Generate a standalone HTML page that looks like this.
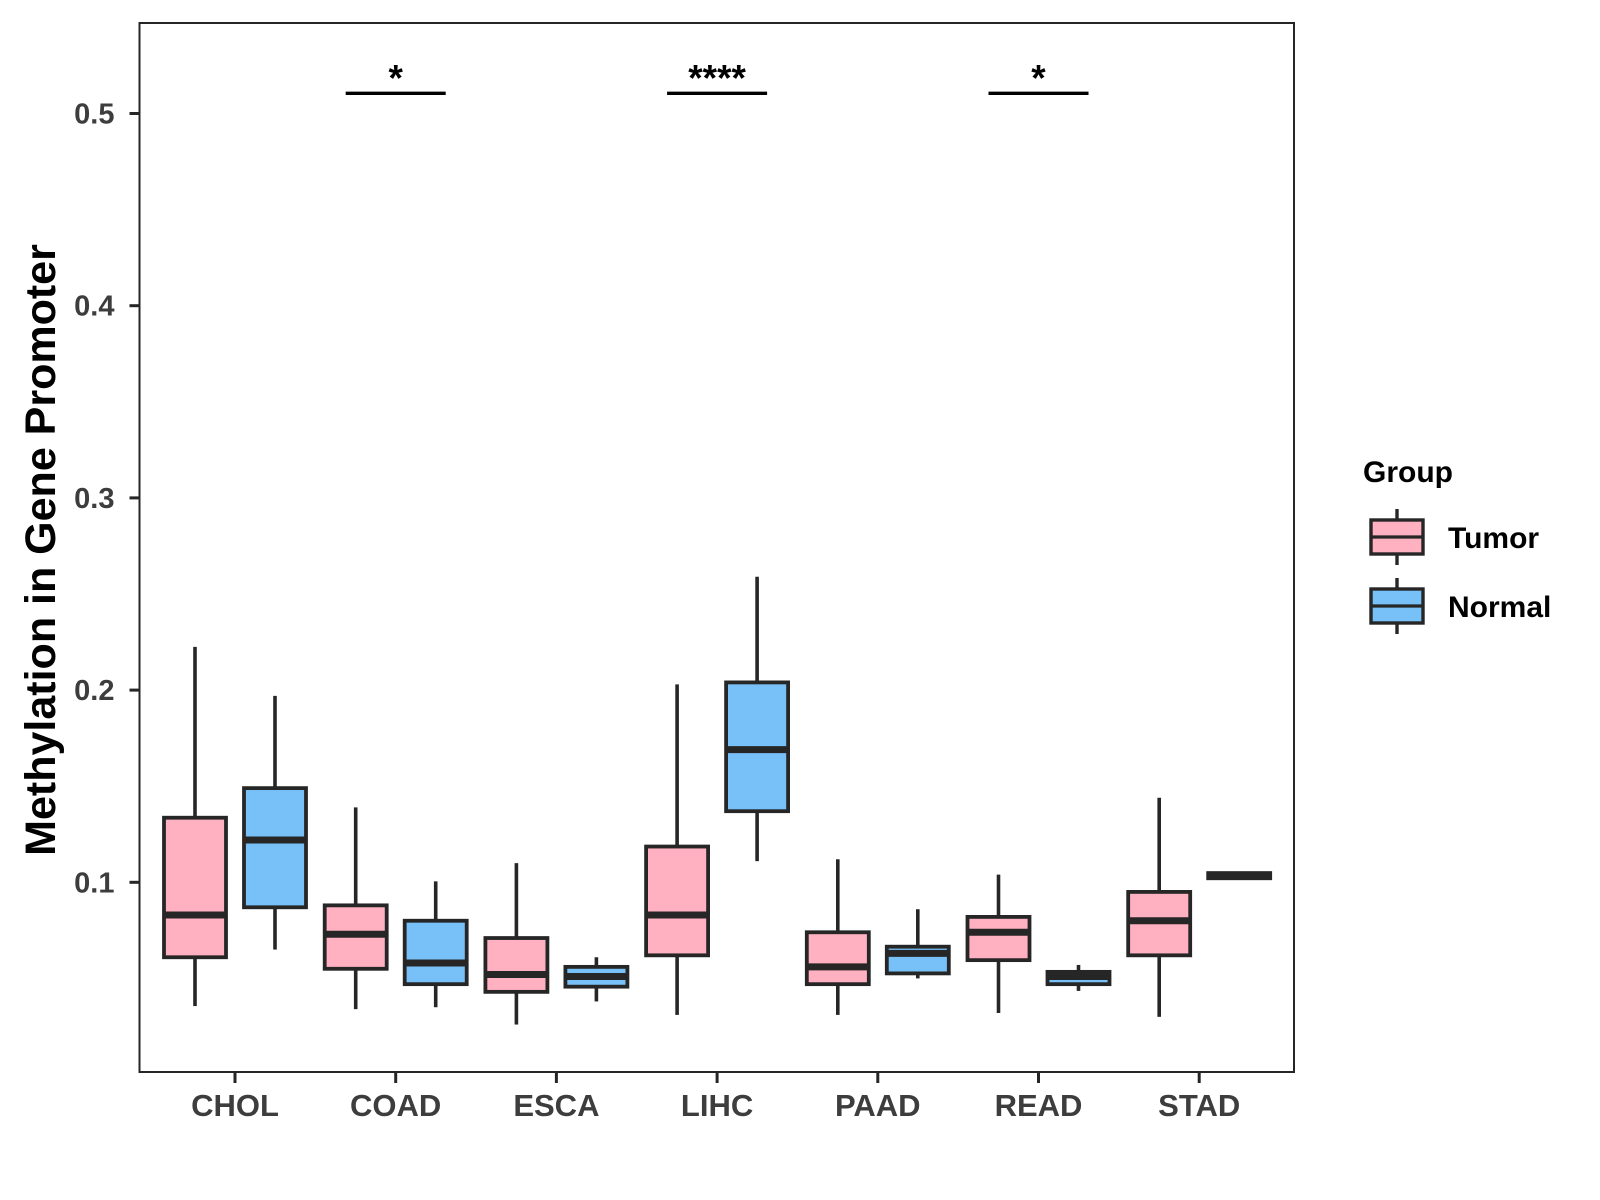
<!DOCTYPE html>
<html><head><meta charset="utf-8"><style>
html,body{margin:0;padding:0;background:#fff;}
svg{display:block;font-family:"Liberation Sans",Arial,sans-serif;}
</style></head><body>
<svg id="chart" width="1600" height="1200" viewBox="0 0 1600 1200">
<rect x="0" y="0" width="1600" height="1200" fill="#fff"/>
<g id="plot"></g>
<text x="55" y="550" transform="rotate(-90 55 550)" text-anchor="middle" font-size="43" font-weight="bold" fill="#000">Methylation in Gene Promoter</text>
<g id="legend"></g>
</svg>
<script>
const categories = ["CHOL","COAD","ESCA","LIHC","PAAD","READ","STAD"];
const groups = ["Tumor","Normal"];
// [lower whisker, q1, median, q3, upper whisker]
const tumorStats = [
 [0.0356,0.061,0.083,0.1336,0.2225],
 [0.034,0.055,0.073,0.088,0.139],
 [0.026,0.043,0.052,0.071,0.110],
 [0.031,0.062,0.083,0.1186,0.203],
 [0.031,0.047,0.056,0.074,0.112],
 [0.032,0.0595,0.074,0.082,0.104],
 [0.030,0.062,0.080,0.095,0.144]
];
const normalStats = [
 [0.065,0.087,0.122,0.149,0.197],
 [0.035,0.047,0.058,0.080,0.1005],
 [0.038,0.0457,0.051,0.056,0.061],
 [0.111,0.137,0.169,0.204,0.259],
 [0.050,0.0526,0.063,0.0665,0.086],
 [0.0435,0.047,0.051,0.0534,0.057],
 [0.1021,0.1021,0.1037,0.1048,0.1048]
];
const yTicks = [0.1,0.2,0.3,0.4,0.5];
const yTickLabels = ["0.1","0.2","0.3","0.4","0.5"];
const sigCategories = ["COAD","LIHC","READ"];
const sigLabels = ["*","****","*"];
const sigLevel = 0.5105;

const NS="http://www.w3.org/2000/svg";
const L=139.5,R=1294,T=23,B=1072;
const y = v => 1074.5 - 1922*v;
const x = i => 235 + i*160.7;
const dodge=40, bw=62;
const colors={Tumor:"#FFB0C1",Normal:"#78C1F8"};
const ink="#262626";
const g=document.getElementById('plot');
function mk(tag,attrs,parent){const e=document.createElementNS(NS,tag);for(const k in attrs)e.setAttribute(k,attrs[k]);(parent||g).appendChild(e);return e;}

yTicks.forEach((v,i)=>{
 const t=mk('line',{x1:L-10,x2:L,y1:y(v),y2:y(v),stroke:ink,'stroke-width':3});
 
 
 const tx=mk('text',{x:L-25,y:y(v)+10,'text-anchor':'end','font-size':29,'font-weight':'bold',fill:'#3d3d3d'});
 tx.textContent=yTickLabels[i];
 
 
});
categories.forEach((c,i)=>{
 const t=mk('line',{x1:x(i),x2:x(i),y1:B,y2:B+11,stroke:ink,'stroke-width':3});
 
 
 const tx=mk('text',{x:x(i),y:B+44,'text-anchor':'middle','font-size':31,'font-weight':'bold',fill:'#3d3d3d'});
 tx.textContent=c;
 
 
});
function drawBox(cx,s,fill,name){
 const grp=mk('g',{});
 
 
 mk('line',{x1:cx,x2:cx,y1:y(s[3]),y2:y(s[4]),stroke:ink,'stroke-width':3.6},grp);
 mk('line',{x1:cx,x2:cx,y1:y(s[1]),y2:y(s[0]),stroke:ink,'stroke-width':3.6},grp);
 mk('rect',{x:cx-bw/2,y:y(s[3]),width:bw,height:Math.max(0.5,y(s[1])-y(s[3])),fill:fill,stroke:ink,'stroke-width':3.8},grp);
 mk('line',{x1:cx-bw/2,x2:cx+bw/2,y1:y(s[2]),y2:y(s[2]),stroke:ink,'stroke-width':7},grp);
}
categories.forEach((c,i)=>{
 drawBox(x(i)-dodge,tumorStats[i],colors.Tumor,'box-'+c.toLowerCase()+'-tumor');
 drawBox(x(i)+dodge,normalStats[i],colors.Normal,'box-'+c.toLowerCase()+'-normal');
});
sigCategories.forEach((c,k)=>{
 const i=categories.indexOf(c);
 const l=mk('line',{x1:x(i)-50,x2:x(i)+50,y1:y(sigLevel),y2:y(sigLevel),stroke:'#000','stroke-width':3.4});
 
 
 const t=mk('text',{x:x(i),y:y(sigLevel)-3,'text-anchor':'middle','font-size':37,'font-weight':'bold',fill:'#000'});
 t.textContent=sigLabels[k];
 
 
});
const pb=mk('rect',{x:L,y:T,width:R-L,height:B-T,fill:'none',stroke:ink,'stroke-width':2});



const lg=document.getElementById('legend');
const lt=mk('text',{x:1363,y:482,'font-size':30,'font-weight':'bold',fill:'#000'},lg);
lt.textContent='Group';


const legendPos=[537,606];
groups.forEach((grpName,k)=>{
 const e=mk('g',{},lg);
 
 
 const cy=legendPos[k], cx=1397;
 mk('line',{x1:cx,x2:cx,y1:cy-28,y2:cy+28,stroke:ink,'stroke-width':3.4},e);
 mk('rect',{x:1371,y:cy-17,width:52,height:34,fill:colors[grpName],stroke:ink,'stroke-width':3.4},e);
 mk('line',{x1:1371,x2:1423,y1:cy,y2:cy,stroke:ink,'stroke-width':3.2},e);
 const tx=mk('text',{x:1448,y:cy+11,'font-size':30,'font-weight':'bold',fill:'#000'},e);
 tx.textContent=grpName;
});
</script>
</body></html>
